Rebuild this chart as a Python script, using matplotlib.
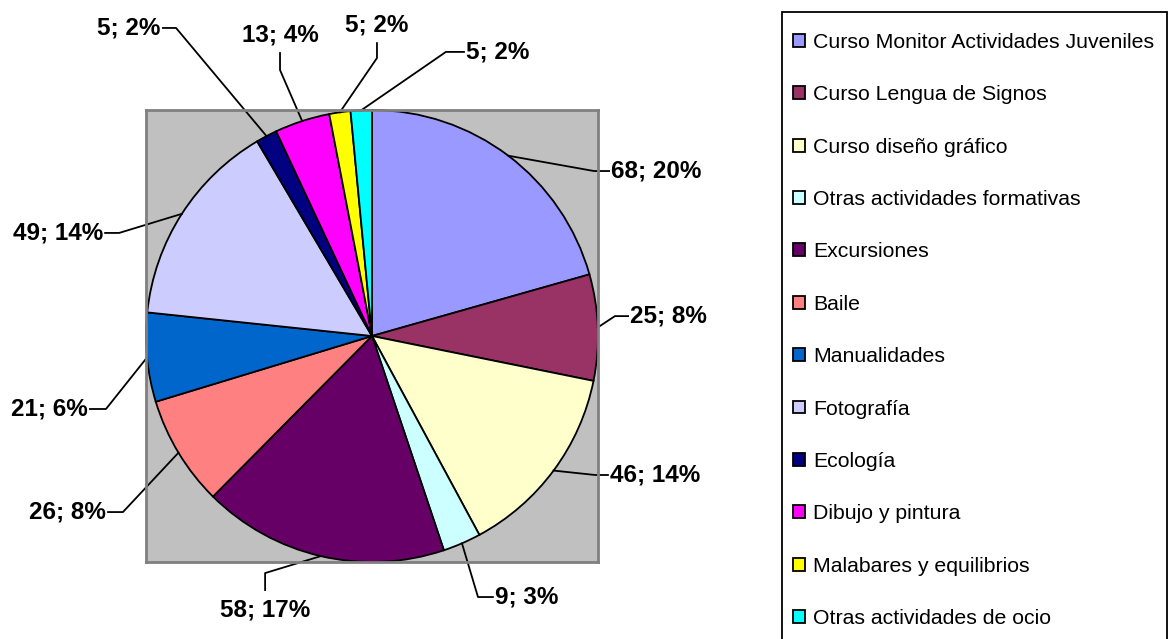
import numpy as np
import matplotlib.pyplot as plt
from matplotlib.patches import Rectangle

categorias = ["Curso Monitor Actividades Juveniles", "Curso Lengua de Signos",
              "Curso diseño gráfico", "Otras actividades formativas", "Excursiones",
              "Baile", "Manualidades", "Fotografía", "Ecología", "Dibujo y pintura",
              "Malabares y equilibrios", "Otras actividades de ocio"]
valores = [68, 25, 46, 9, 58, 26, 21, 49, 5, 13, 5, 5]
porcentajes = [20, 8, 14, 3, 17, 8, 6, 14, 2, 4, 2, 2]

colores = ["#9999FF", "#993366", "#FFFFCC", "#CCFFFF", "#660066", "#FF8080",
           "#0066CC", "#CCCCFF", "#000080", "#FF00FF", "#FFFF00", "#00FFFF"]

# label layout: elbow point, end of leader, side of text (data units, radius = 1)
codo = [(0.982, 0.730), (1.075, 0.088), (0.987, -0.615), (0.469, -1.155),
        (-0.473, -1.049), (-1.102, -0.779), (-1.177, -0.323), (-1.119, 0.456),
        (-0.867, 1.363), (-0.407, 1.177), (0.022, 1.230), (0.327, 1.257)]
fin = [(1.049, 0.730), (1.133, 0.088), (1.044, -0.615), (0.535, -1.155),
       (-0.473, -1.124), (-1.168, -0.779), (-1.248, -0.323), (-1.181, 0.456),
       (-0.925, 1.363), (-0.407, 1.252), (0.022, 1.296), (0.407, 1.257)]
lado = ["r", "r", "r", "r", "b", "l", "l", "l", "l", "t", "t", "r"]

plt.rcParams['font.family'] = ['Liberation Sans', 'DejaVu Sans']

fig = plt.figure(figsize=(11.72, 6.39), dpi=100)
ax = fig.add_axes([146/1172, 1-562/639, 452/1172, 452/639])
ax.set_facecolor("#C0C0C0")
for s in ax.spines.values():
	s.set_color("#808080")
	s.set_linewidth(2)

wedges, _ = ax.pie(valores, colors=colores, startangle=90, counterclock=False,
                   radius=1, frame=True,
                   wedgeprops=dict(edgecolor="black", linewidth=1.3))
ax.set_xlim(-1, 1)
ax.set_ylim(-1, 1)
ax.set_xticks([])
ax.set_yticks([])

offs = {"r": ((1.5, 0), "left", "center"), "l": ((-1.5, 0), "right", "center"),
        "t": ((0, 5), "center", "bottom"), "b": ((0, -6), "center", "top")}
for i, w in enumerate(wedges):
	ang = np.deg2rad((w.theta1 + w.theta2) / 2)
	x0, y0 = np.cos(ang), np.sin(ang)
	ex, ey = codo[i]
	fx, fy = fin[i]
	ax.plot([x0, ex, fx], [y0, ey, fy], color="black", lw=1.3, clip_on=False)
	off, ha, va = offs[lado[i]]
	ax.annotate("%d; %d%%" % (valores[i], porcentajes[i]), xy=(fx, fy), xytext=off,
	            textcoords="offset points", ha=ha, va=va, fontsize=17.5,
	            fontweight="bold", annotation_clip=False)

# legend box runs off the bottom of the picture
fig.patches.append(Rectangle((782/1172, -0.05), 385/1172, 1.05 - 12/639,
                             transform=fig.transFigure, facecolor="none",
                             edgecolor="black", linewidth=1.3))
leg = fig.legend(wedges, categorias, loc="upper left",
                 bbox_to_anchor=(793/1172, 1-33/639), fontsize=15.3, frameon=False,
                 borderaxespad=0, borderpad=0, labelspacing=1.57, handlelength=0.56,
                 handleheight=0.56, handletextpad=0.4)

plt.savefig("out.png", dpi=100)
